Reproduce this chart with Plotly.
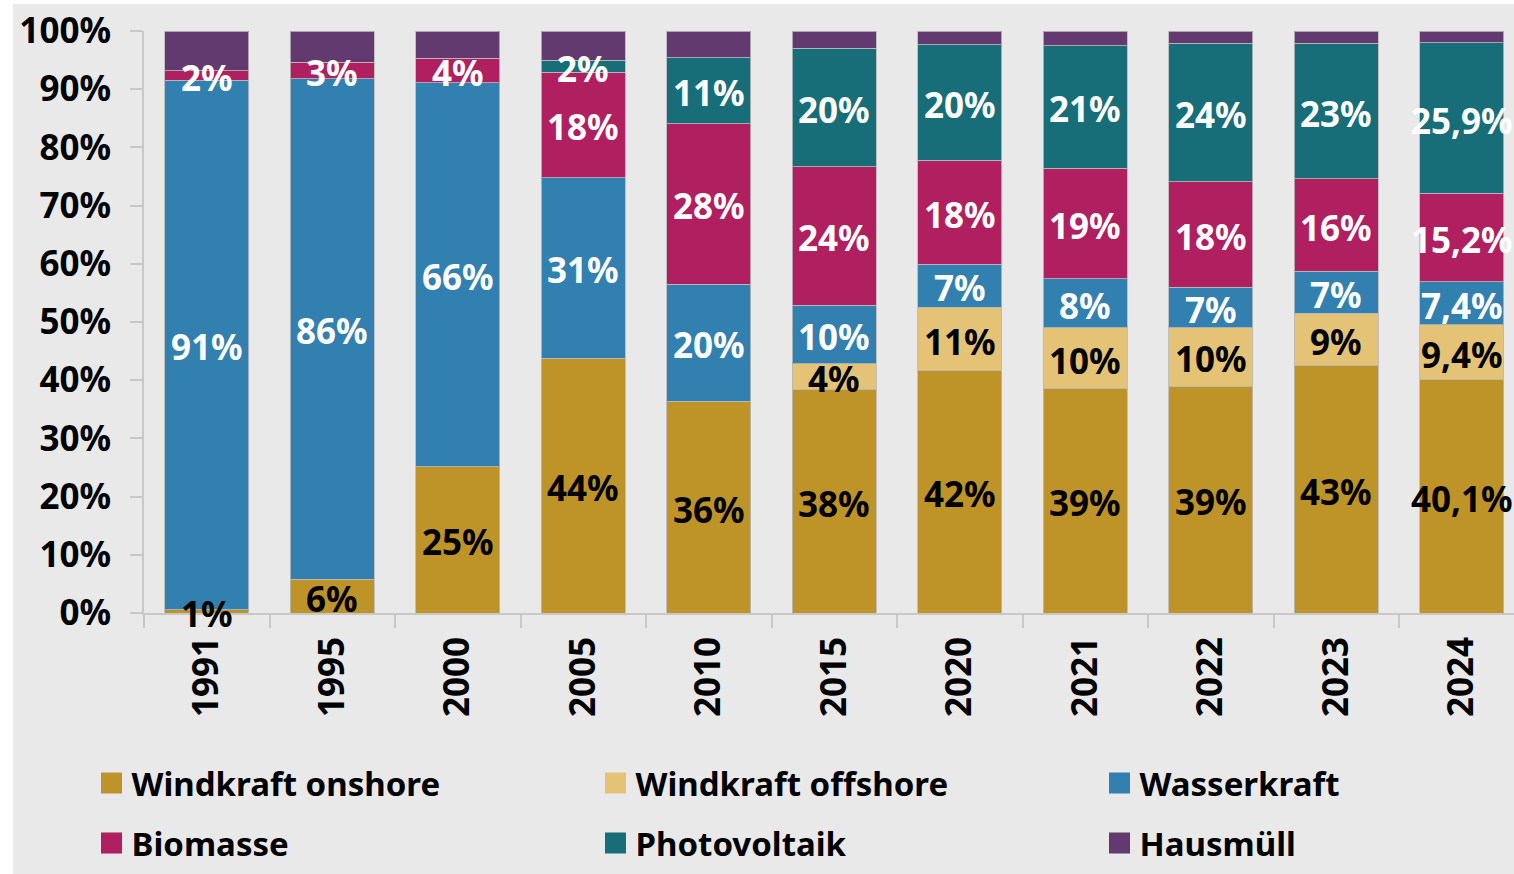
import numpy as np
import plotly.graph_objects as go

# Anteile der Energieträger an der Stromerzeugung aus erneuerbaren Energien (in %)
years = ["1991", "1995", "2000", "2005", "2010", "2015", "2020", "2021", "2022", "2023", "2024"]
windkraft_onshore = [0.6, 5.8, 25.1, 43.8, 36.4, 38.4, 41.6, 38.6, 39.0, 42.6, 40.1]
windkraft_offshore = [0, 0, 0, 0, 0, 4.4, 10.9, 10.4, 10.0, 8.9, 9.4]
wasserkraft = [90.9, 86.0, 66.0, 31.0, 20.1, 10.1, 7.4, 8.4, 7.0, 7.2, 7.4]
biomasse = [1.7, 2.8, 4.2, 18.1, 27.6, 23.8, 17.9, 19.0, 18.1, 15.9, 15.2]
photovoltaik = [0, 0, 0, 2.1, 11.3, 20.3, 19.8, 21.1, 23.8, 23.3, 25.9]
hausmuell = [6.8, 5.4, 4.7, 5.0, 4.6, 3.0, 2.4, 2.5, 2.1, 2.1, 2.0]
label_decimals = [0, 0, 0, 0, 0, 0, 0, 0, 0, 0, 1]
y_tick_values = list(range(0, 101, 10))
y_tick_labels = [f"{v}%" for v in y_tick_values]

series = [
    ("Windkraft onshore", windkraft_onshore, "#BE9328", "black"),
    ("Windkraft offshore", windkraft_offshore, "#E4C376", "black"),
    ("Wasserkraft", wasserkraft, "#3180B0", "white"),
    ("Biomasse", biomasse, "#B01F5F", "white"),
    ("Photovoltaik", photovoltaik, "#186E78", "white"),
    ("Hausmüll", hausmuell, "#633A70", None),
]

FONT = "Noto Sans"
W, H = 1514, 874
M_L, M_R, M_T, M_B = 144, 0, 31, 261
PLOT_W = W - M_L - M_R
PLOT_H = H - M_T - M_B
CAT_PX = 125.5


def px_x(px):
    return (px - M_L) / PLOT_W


def px_y(py):
    return (H - M_B - py) / PLOT_H


def fmt(v, d):
    return f"{v:.{d}f}".replace(".", ",") + "%"


fig = go.Figure()
annotations = []

base = np.zeros(len(years))
for name, vals, color, txt_color in series:
    vals = np.asarray(vals, dtype=float)
    fig.add_trace(go.Bar(
        x=years, y=vals, name=name, showlegend=False,
        marker=dict(color=color, line=dict(color="rgba(185,185,185,0.85)", width=1)),
        width=0.67, hoverinfo="skip",
    ))
    if txt_color is not None:
        for idx, (v, b, d) in enumerate(zip(vals, base, label_decimals)):
            if v <= 0:
                continue
            annotations.append(dict(
                x=idx, y=float(b + v / 2), xref="x", yref="y", text=fmt(v, d),
                showarrow=False, yshift=-2, xanchor="center", yanchor="middle",
                font=dict(family=FONT, size=35, color=txt_color, weight="bold"),
            ))
    base = base + vals

# Legende: zwei Zeilen zu je drei Einträgen
for i, (name, vals, color, _) in enumerate(series):
    fig.add_trace(go.Scatter(
        x=[None], y=[None], mode="markers", name=name,
        legend="legend" if i < 3 else "legend2",
        marker=dict(symbol="square", size=16, color=color, line=dict(color=color, width=5)),
    ))

legend_common = dict(
    orientation="h", xanchor="left", yanchor="middle",
    x=px_x(91.5), bgcolor="rgba(0,0,0,0)",
    font=dict(family=FONT, size=33, color="black", weight="bold"),
    entrywidth=459, entrywidthmode="pixels", itemsizing="trace",
    traceorder="normal",
)

tick_font = dict(family=FONT, size=35, color="black", weight="bold")

fig.update_layout(
    width=W, height=H,
    margin=dict(l=M_L, r=M_R, t=M_T, b=M_B, autoexpand=False),
    paper_bgcolor="white", plot_bgcolor="#E9E9E9",
    barmode="stack", bargap=0.33,
    font=dict(family=FONT, size=33, color="black", weight="bold"),
    legend=dict(y=px_y(783), **legend_common),
    legend2=dict(y=px_y(843), **legend_common),
    annotations=annotations,
    shapes=[dict(
        type="rect", xref="paper", yref="paper", layer="below",
        x0=px_x(13), x1=1.0, y0=px_y(H), y1=px_y(4),
        fillcolor="#E9E9E9", line=dict(width=0),
    )],
)

fig.update_xaxes(
    type="category", range=[-0.5, -0.5 + PLOT_W / CAT_PX],
    showline=True, linecolor="#C8C8C8", linewidth=2,
    ticks="outside", tickson="boundaries", ticklen=13, tickcolor="#C8C8C8", tickwidth=2,
    tickangle=-90, tickfont=tick_font, ticklabelstandoff=8,
    showgrid=False, zeroline=False, fixedrange=True,
)
fig.update_yaxes(
    range=[0, 100], tickvals=y_tick_values, ticktext=y_tick_labels,
    showline=True, linecolor="#C8C8C8", linewidth=2,
    ticks="outside", ticklen=12, tickcolor="#C8C8C8", tickwidth=2,
    tickfont=tick_font, ticklabelstandoff=12,
    showgrid=False, zeroline=False, fixedrange=True,
)

fig.write_html("out.html")
